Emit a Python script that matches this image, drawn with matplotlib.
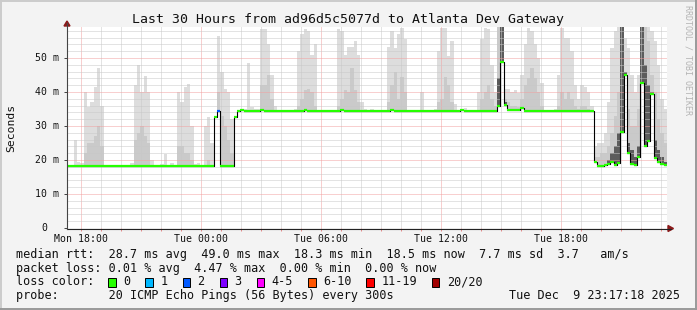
import numpy as np
import matplotlib
matplotlib.use("Agg")
import matplotlib.pyplot as plt
import matplotlib.dates as mdates
from matplotlib.lines import Line2D
from matplotlib.patches import Rectangle, Polygon
from datetime import datetime, timedelta

W, H = 697, 310

start = datetime(2025, 12, 8, 17, 17, 18)
end = datetime(2025, 12, 9, 23, 17, 18)
step_min = 10  # one value per 10 minutes

# median rtt in ms, one row per hour
median = [
    18.3, 18.3, 18.3, 18.3, 18.3, 18.3,
    18.3, 18.3, 18.3, 18.3, 18.3, 18.3,
    18.3, 18.3, 18.3, 18.3, 18.3, 18.3,
    18.3, 18.3, 18.3, 18.3, 18.3, 18.3,
    18.3, 18.3, 18.3, 18.3, 18.3, 18.3,
    18.3, 18.3, 18.3, 18.3, 18.3, 18.3,
    18.3, 18.3, 18.3, 18.3, 18.3, 18.3,
    18.3, 18.3, 32.6, 34.4, 18.3, 18.3,
    18.3, 18.3, 32.5, 34.4, 34.7, 34.4,
    34.4, 34.4, 34.4, 34.4, 34.7, 34.4,
    34.4, 34.4, 34.4, 34.4, 34.4, 34.4,
    34.4, 34.4, 34.4, 34.4, 34.4, 34.7,
    34.4, 34.4, 34.4, 34.4, 34.4, 34.4,
    34.4, 34.4, 34.4, 34.4, 34.7, 34.4,
    34.4, 34.4, 34.4, 34.4, 34.4, 34.4,
    34.4, 34.4, 34.4, 34.4, 34.4, 34.4,
    34.4, 34.7, 34.4, 34.4, 34.4, 34.4,
    34.4, 34.4, 34.4, 34.4, 34.4, 34.4,
    34.4, 34.4, 34.4, 34.4, 34.4, 34.4,
    34.4, 34.4, 34.4, 34.4, 34.7, 34.4,
    34.4, 34.4, 34.4, 34.4, 34.4, 34.4,
    34.4, 34.4, 34.4, 35.9, 48.9, 36.3,
    34.7, 34.7, 34.7, 34.7, 35.3, 34.4,
    34.3, 34.3, 34.3, 34.3, 34.3, 34.3,
    34.3, 34.3, 34.3, 34.3, 34.3, 34.3,
    34.3, 34.3, 34.3, 34.3, 34.3, 34.3,
    34.3, 34.3, 19.5, 18.3, 18.3, 18.5,
    18.8, 19.3, 18.6, 19.0, 28.3, 45.0,
    22.2, 18.8, 18.6, 21.0, 42.5, 24.2,
    25.6, 39.4, 20.5, 19.5, 18.8, 18.5,
]

# top of the light smoke (slowest ping), ms
smoke_max = [
    18.3, 18.3, 26.0, 19.5, 19.0, 40.0,
    35.5, 37.0, 41.5, 47.0, 36.0, 18.5,
    18.3, 18.3, 18.3, 18.3, 18.3, 18.3,
    18.5, 19.0, 42.0, 48.0, 40.0, 44.8,
    40.0, 20.0, 18.6, 18.5, 18.8, 21.7,
    18.5, 19.2, 18.5, 40.0, 37.0, 41.5,
    42.5, 30.0, 18.8, 19.2, 18.5, 30.0,
    32.6, 25.0, 33.0, 56.5, 46.0, 41.0,
    40.0, 32.0, 33.0, 34.8, 34.8, 35.0,
    48.5, 35.5, 35.0, 35.0, 58.5, 58.5,
    54.0, 45.0, 36.0, 34.6, 34.6, 34.6,
    34.6, 34.5, 35.0, 52.0, 57.0, 58.5,
    58.0, 51.0, 54.0, 34.6, 34.5, 34.5,
    34.5, 34.5, 34.8, 58.5, 58.0, 50.8,
    53.3, 53.3, 55.0, 51.0, 37.0, 35.0,
    34.6, 35.0, 34.6, 34.6, 34.6, 34.6,
    53.3, 58.0, 52.8, 57.0, 58.8, 55.7,
    34.6, 34.6, 34.6, 34.6, 40.0, 34.6,
    34.6, 34.6, 35.0, 52.0, 58.8, 58.8,
    50.5, 55.0, 36.5, 34.6, 35.0, 35.3,
    34.6, 34.6, 34.8, 40.0, 55.7, 58.8,
    58.5, 47.8, 40.0, 59.0, 59.0, 41.0,
    41.0, 40.0, 40.5, 39.6, 45.0, 54.0,
    58.8, 58.0, 54.0, 50.0, 42.5, 34.5,
    34.6, 34.6, 35.0, 45.0, 58.8, 56.0,
    56.0, 52.0, 42.0, 38.0, 42.0, 41.5,
    40.0, 36.0, 24.0, 25.0, 25.0, 28.0,
    37.0, 53.0, 58.0, 59.0, 59.0, 56.0,
    53.0, 45.0, 40.0, 45.0, 59.0, 59.0,
    59.0, 58.0, 55.0, 48.0, 38.0, 35.0,
]

# top of the medium smoke, ms
smoke_mid = [
    18.3, 18.3, 18.3, 18.3, 18.3, 22.0,
    25.0, 25.0, 27.0, 30.0, 24.0, 18.3,
    18.3, 18.3, 18.3, 18.3, 18.3, 18.3,
    18.3, 18.3, 26.0, 28.0, 30.0, 27.0,
    25.0, 18.3, 18.3, 18.3, 18.3, 18.3,
    18.3, 18.3, 18.3, 24.0, 24.0, 22.0,
    22.0, 20.0, 18.3, 18.3, 18.3, 18.3,
    20.0, 18.3, 32.6, 40.0, 33.0, 30.0,
    26.0, 22.0, 32.5, 34.4, 34.7, 34.4,
    34.4, 34.4, 34.4, 34.4, 42.0, 42.0,
    45.0, 38.0, 34.4, 34.4, 34.4, 34.4,
    34.4, 34.4, 34.4, 36.0, 38.0, 40.5,
    41.0, 40.0, 36.0, 34.4, 34.4, 34.4,
    34.4, 34.4, 34.4, 36.0, 38.0, 40.5,
    40.0, 47.0, 40.5, 37.0, 34.4, 34.4,
    34.4, 34.4, 34.4, 34.4, 34.4, 34.4,
    37.0, 42.0, 45.8, 38.0, 44.3, 40.0,
    34.4, 34.4, 34.4, 34.4, 34.4, 34.4,
    34.4, 34.4, 34.4, 37.0, 38.0, 44.3,
    42.0, 37.0, 34.4, 34.4, 34.7, 34.4,
    34.4, 34.4, 34.4, 34.4, 38.0, 40.0,
    42.0, 38.0, 36.0, 59.0, 59.0, 38.0,
    37.0, 36.0, 36.0, 35.5, 38.0, 42.0,
    44.0, 47.0, 44.0, 40.0, 36.0, 34.4,
    34.4, 34.4, 34.4, 36.0, 40.0, 38.0,
    40.0, 38.0, 36.0, 35.0, 36.0, 36.0,
    35.0, 34.4, 21.0, 21.0, 22.0, 22.0,
    24.0, 28.0, 33.0, 40.0, 50.0, 45.0,
    35.0, 30.0, 30.0, 35.0, 59.0, 59.0,
    55.0, 45.0, 40.0, 32.0, 28.0, 25.0,
]

# dense (dark) smoke tops, bin index -> ms
smoke_dark = {
    129: 44.0, 130: 59.0, 131: 37.0,
    162: 20.0, 163: 22.0, 164: 24.0, 165: 28.0, 166: 59.0, 167: 46.0,
    168: 25.0, 169: 23.0, 170: 21.0, 171: 24.0, 172: 59.0, 173: 48.0,
    174: 42.0, 175: 40.0, 176: 26.0, 177: 23.0, 178: 21.0, 179: 19.5,
}

# bins with lost packets, bin index -> index into loss_labels
loss_bins = {45: 2}

loss_labels = ["0", "1", "2", "3", "4-5", "6-10", "11-19", "20/20"]
loss_colors = ["#26ff00", "#00b8ff", "#0059ff", "#7e00ff",
               "#ff00ff", "#ff5500", "#ff0000", "#a10000"]

stat_lines = [
    "median rtt:  28.7 ms avg  49.0 ms max  18.3 ms min  18.5 ms now  7.7 ms sd  3.7   am/s",
    "packet loss: 0.01 % avg  4.47 % max  0.00 % min  0.00 % now",
]
probe_text = "probe:       20 ICMP Echo Pings (56 Bytes) every 300s"
stamp_text = "Tue Dec  9 23:17:18 2025"
title = "Last 30 Hours from ad96d5c5077d to Atlanta Dev Gateway"

MONO = "DejaVu Sans Mono"


def fx(x):
    return x / W


def fy(y):
    return 1 - y / H


fig = plt.figure(figsize=(W / 100, H / 100), dpi=100)
fig.patch.set_facecolor("#f3f3f3")

# frame shading like rrdtool
fig.add_artist(Line2D([0, 1], [fy(0.5)] * 2, color="#cbcbcb", lw=1.4))
fig.add_artist(Line2D([fx(0.5)] * 2, [0, 1], color="#cbcbcb", lw=1.4))
fig.add_artist(Line2D([0, 1], [fy(H - 1)] * 2, color="#999999", lw=1.4))
fig.add_artist(Line2D([fx(W - 1)] * 2, [0, 1], color="#999999", lw=1.4))

ax = fig.add_axes([fx(67), fy(228), 600 / W, 200.6 / H])
ax.set_facecolor("white")
for s in ax.spines.values():
    s.set_visible(False)

n = len(median)
t = mdates.date2num([start + timedelta(minutes=step_min * i) for i in range(n)])
w = step_min / 1440.0
med = np.array(median)
top = np.maximum(np.array(smoke_max), med)
mid = np.maximum(np.array(smoke_mid), med)
dark = med.copy()
for k, v in smoke_dark.items():
    dark[k] = v

ax.bar(t, top - med, bottom=med, width=w, align="edge", color="#dddddd", lw=0, zorder=1)
ax.bar(t, mid - med, bottom=med, width=w, align="edge", color="#cacaca", lw=0, zorder=1.1)
ax.bar(t, dark - med, bottom=med, width=w, align="edge", color="#5c5c5c", lw=0, zorder=1.2)

# median line: thin black steps, loss-coloured segments on top
ax.step(np.append(t, t[-1] + w), np.append(med, med[-1]), where="post",
        color="black", lw=0.8, zorder=4)
seg_colors = [loss_colors[loss_bins.get(i, 0)] for i in range(n)]
ax.hlines(med, t, t + w, colors=seg_colors, lw=1.6, zorder=5)

ax.set_xlim(mdates.date2num(start), mdates.date2num(end))
ax.set_ylim(0, 59.0)

ax.xaxis.set_major_locator(mdates.HourLocator(byhour=[0, 6, 12, 18]))
ax.xaxis.set_minor_locator(mdates.HourLocator())
ax.xaxis.set_major_formatter(mdates.DateFormatter("%a %H:%M"))
ax.set_yticks(np.arange(0, 51, 10))
ax.set_yticks(np.arange(0, 59, 2), minor=True)
ax.set_yticklabels([])

ax.set_axisbelow(False)
ax.grid(which="minor", color="#c8c8c8", linestyle=(0, (1, 1)), lw=0.72)
ax.grid(which="major", color="#f2a0a0", linestyle=(0, (1, 1)), lw=0.72)

ax.tick_params(axis="x", which="both", direction="out", length=2, width=0.7,
               color="#e88a8a", pad=2.5, labelsize=7.1, labelcolor="#111111")
ax.tick_params(axis="y", which="major", direction="out", length=2, width=0.7,
               color="#404040")
ax.tick_params(axis="y", which="minor", length=0)
for lab in ax.get_xticklabels():
    lab.set_family(MONO)

for v in range(0, 51, 10):
    if v == 0:
        ax.text((47.4 - 67) / 600, v, "0", transform=ax.get_yaxis_transform(),
                ha="right", va="center", fontsize=7.1, family=MONO, color="#111111")
    else:
        ax.text((59.3 - 67) / 600, v, f"{v} m", transform=ax.get_yaxis_transform(),
                ha="right", va="center", fontsize=7.1, family=MONO, color="#111111")

# axes lines and arrows
fig.add_artist(Line2D([fx(66.5), fx(671)], [fy(228.5)] * 2, color="#222222", lw=0.8))
fig.add_artist(Line2D([fx(67)] * 2, [fy(228.5), fy(23)], color="#444444", lw=0.8))
fig.add_artist(Polygon([(fx(668), fy(225.5)), (fx(673.5), fy(228.5)), (fx(668), fy(231.5))],
                       closed=True, color="#8b1a1a", transform=fig.transFigure))
fig.add_artist(Polygon([(fx(64), fy(26)), (fx(67), fy(21)), (fx(70), fy(26))],
                       closed=True, color="#8b1a1a", transform=fig.transFigure))

# texts
fig.text(fx(347.5), fy(23.5), title, ha="center", va="baseline",
         fontsize=9.5, family=MONO, color="#111111")
fig.text(fx(11), fy(127.5), "Seconds", rotation=90, ha="center", va="center",
         fontsize=8.2, family=MONO, color="#111111")
fig.text(fx(688), fy(60), "RRDTOOL / TOBI OETIKER", rotation=270, ha="center",
         va="center", fontsize=6, family=MONO, color="#b4b4b4")

fig.text(fx(16), fy(258), stat_lines[0], va="baseline", fontsize=8.5, family=MONO, color="#111111")
fig.text(fx(16), fy(271.7), stat_lines[1], va="baseline", fontsize=8.5, family=MONO, color="#111111")
fig.text(fx(16), fy(285.4), "loss color:", va="baseline", fontsize=8.5, family=MONO, color="#111111")
bx = 108.3
for lab, col in zip(loss_labels, loss_colors):
    fig.add_artist(Rectangle((fx(bx), fy(286.7)), 7.6 / W, 9 / H, transform=fig.transFigure,
                             facecolor=col, edgecolor="black", lw=0.7))
    fig.text(fx(bx + 15), fy(285.4), lab, va="baseline", fontsize=8.5, family=MONO, color="#111111")
    bx = bx + 15 + len(lab) * 7.1 + 15
fig.text(fx(16), fy(299), probe_text, va="baseline", fontsize=8.5, family=MONO, color="#111111")
fig.text(fx(680), fy(299), stamp_text, ha="right", va="baseline", fontsize=8.5,
         family=MONO, color="#111111")

fig.savefig("out.png", dpi=100, facecolor=fig.get_facecolor())
